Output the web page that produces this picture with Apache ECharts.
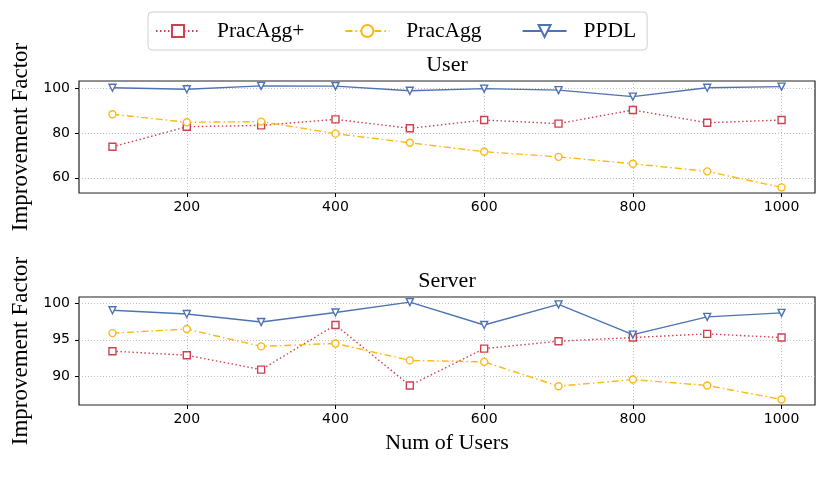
<!DOCTYPE html>
<html>
<head>
<meta charset="utf-8">
<script src="https://cdn.jsdelivr.net/npm/echarts@6/dist/echarts.min.js"></script>
<style>html,body{margin:0;padding:0;background:#fff}#c{width:830px;height:488px}</style>
</head>
<body>
<div id="c"></div>
<script>
var xValues = [100, 200, 300, 400, 500, 600, 700, 800, 900, 1000];
var xTicks = [200, 400, 600, 800, 1000];
var userTicks = [60, 80, 100];
var serverTicks = [90, 95, 100];
var seriesNames = ['PracAgg+', 'PracAgg', 'PPDL'];
var userPracAggPlus = [73.9, 82.9, 83.5, 86.2, 82.2, 85.9, 84.3, 90.4, 84.7, 85.9];
var userPracAgg = [88.5, 84.9, 85.2, 79.8, 75.7, 71.7, 69.4, 66.3, 62.9, 55.7];
var userPPDL = [100.4, 99.7, 101.2, 101.1, 99.0, 100.0, 99.3, 96.4, 100.4, 100.9];
var serverPracAggPlus = [93.45, 92.9, 90.95, 97.0, 88.8, 93.8, 94.8, 95.3, 95.8, 95.3];
var serverPracAgg = [95.9, 96.45, 94.1, 94.5, 92.2, 92.0, 88.7, 89.6, 88.8, 86.9];
var serverPPDL = [99.0, 98.5, 97.4, 98.7, 100.1, 97.0, 99.8, 95.7, 98.1, 98.65];

var RED = '#d0414f', YEL = '#fdb813', BLUE = '#4e73b4';
var SERIF = '"Liberation Serif", "Times New Roman", serif';
var SANS = '"DejaVu Sans", sans-serif';

function pairs(ys) { return xValues.map(function (x, i) { return [x, ys[i]]; }); }

function xAxisCfg(gi, name) {
  var a = {
    type: 'value', gridIndex: gi, min: 55, max: 1045,
    axisLine: { show: false },
    axisTick: { show: true, length: 4, customValues: xTicks, lineStyle: { color: '#000', width: 1 } },
    axisLabel: { customValues: xTicks, margin: 7, fontFamily: SANS, fontSize: 14, color: '#000',
      formatter: function (v) { return String(v); } },
    splitLine: { show: true, lineStyle: { color: '#b0b0b0', width: 0.8, type: [1, 2] } }
  };
  if (name) {
    a.name = name; a.nameLocation = 'middle'; a.nameGap = 27;
    a.nameTextStyle = { fontFamily: SERIF, fontSize: 22, color: '#000' };
  }
  return a;
}
function yAxisCfg(gi, mn, mx, ticks) {
  return {
    type: 'value', gridIndex: gi, min: mn, max: mx,
    name: 'Improvement Factor', nameLocation: 'middle', nameGap: 39,
    nameTextStyle: { fontFamily: SERIF, fontSize: 23, color: '#000' },
    axisLine: { show: false },
    axisTick: { show: true, length: 4, customValues: ticks, lineStyle: { color: '#000', width: 1 } },
    axisLabel: { customValues: ticks, margin: 9, fontFamily: SANS, fontSize: 14, color: '#000' },
    splitLine: { show: true, lineStyle: { color: '#b0b0b0', width: 0.8, type: [1, 2] } }
  };
}
function mk(name, data, gi, color, symbol, dash, rotate) {
  return {
    name: name, type: 'line', xAxisIndex: gi, yAxisIndex: gi,
    data: pairs(data), symbol: symbol, symbolSize: 7, symbolRotate: rotate || 0,
    showAllSymbol: true, animation: false,
    lineStyle: { color: color, width: 1.4, type: dash },
    itemStyle: { color: '#fff', borderColor: color, borderWidth: 1.4 },
    emphasis: { disabled: true }
  };
}

var chart = echarts.init(document.getElementById('c'), null, { renderer: 'canvas' });
chart.setOption({
  backgroundColor: '#fff',
  animation: false,
  grid: [
    { left: 79, right: 15, top: 81, height: 112, show: true, borderColor: '#222', borderWidth: 1.2, backgroundColor: 'transparent' },
    { left: 79, right: 15, top: 297, height: 108, show: true, borderColor: '#222', borderWidth: 1.2, backgroundColor: 'transparent' }
  ],
  xAxis: [xAxisCfg(0), xAxisCfg(1, 'Num of Users')],
  yAxis: [yAxisCfg(0, 53.2, 103.4, userTicks), yAxisCfg(1, 86.15, 100.8, serverTicks)],
  legend: {
    data: seriesNames, left: 148, top: 12, orient: 'horizontal',
    padding: [8, 11, 8, 7], itemGap: 40, itemWidth: 44, itemHeight: 15,
    borderColor: '#d0d0d0', borderWidth: 1, borderRadius: 4,
    textStyle: { fontFamily: SERIF, fontSize: 21.5, color: '#000', padding: [0, 0, 0, 12] }
  },
  graphic: [
    { type: 'text', x: 447, y: 65, style: { text: 'User', font: '22px ' + SERIF, fill: '#000', textAlign: 'center', textVerticalAlign: 'middle' } },
    { type: 'text', x: 447, y: 281, style: { text: 'Server', font: '22px ' + SERIF, fill: '#000', textAlign: 'center', textVerticalAlign: 'middle' } }
  ],
  series: [
    mk('PracAgg+', userPracAggPlus, 0, RED, 'rect', [1.5, 2.5]),
    mk('PracAgg', userPracAgg, 0, YEL, 'circle', [7, 3, 1.5, 3]),
    mk('PPDL', userPPDL, 0, BLUE, 'triangle', 'solid', 180),
    mk('PracAgg+', serverPracAggPlus, 1, RED, 'rect', [1.5, 2.5]),
    mk('PracAgg', serverPracAgg, 1, YEL, 'circle', [7, 3, 1.5, 3]),
    mk('PPDL', serverPPDL, 1, BLUE, 'triangle', 'solid', 180)
  ]
});
</script>
</body>
</html>
